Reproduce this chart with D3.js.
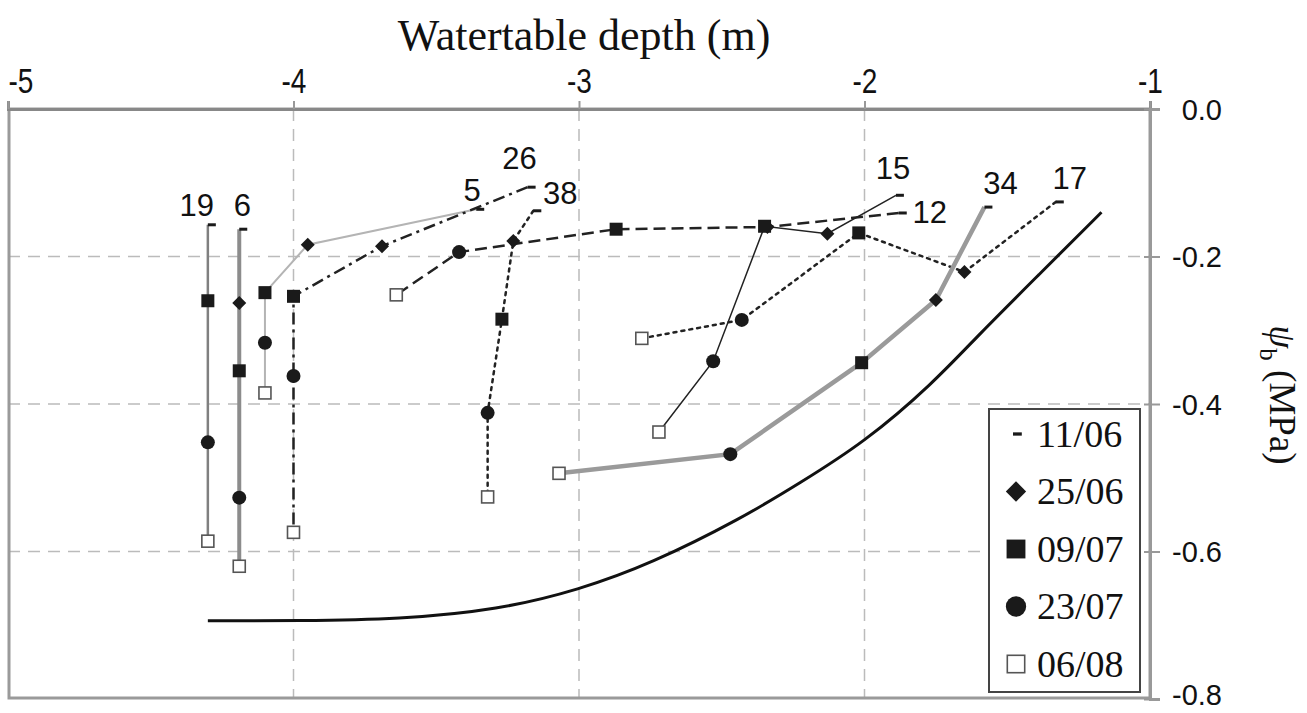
<!DOCTYPE html>
<html>
<head>
<meta charset="utf-8">
<script src="https://cdn.jsdelivr.net/npm/d3@7"></script>
<style>
	body { margin: 0; background: #fff; }
	svg { display: block; }
</style>
</head>
<body>
<svg id="chart" width="1307" height="713"></svg>
<script>
// Water potential (psi_b) against watertable depth, per site & sampling date

	// Sampling dates (order of points along each site line)
var dates = ["11/06", "25/06", "09/07", "23/07", "06/08"];

	// Site points: [depth (m), psi_b (MPa)] per date, null if not sampled
var site19 = [[-4.30, -0.157], null, [-4.30, -0.260], [-4.30, -0.452], [-4.30, -0.586]];
var site6  = [[-4.19, -0.163], [-4.19, -0.263], [-4.19, -0.355], [-4.19, -0.527], [-4.19, -0.620]];
var site5  = [[-3.36, -0.136], [-3.95, -0.184], [-4.10, -0.249], [-4.10, -0.317], [-4.10, -0.385]];
var site26 = [[-3.18, -0.106], [-3.69, -0.186], [-4.00, -0.254], [-4.00, -0.362], [-4.00, -0.574]];
var site38 = [[-3.16, -0.138], [-3.23, -0.179], [-3.27, -0.285], [-3.32, -0.412], [-3.32, -0.526]];
var site12 = [[-1.88, -0.141], [-2.34, -0.160], [-2.87, -0.163], [-3.42, -0.194], [-3.64, -0.252]];
var site15 = [[-1.89, -0.117], [-2.13, -0.169], [-2.35, -0.159], [-2.53, -0.342], [-2.72, -0.438]];
var site17 = [[-1.33, -0.126], [-1.65, -0.221], [-2.02, -0.168], [-2.43, -0.286], [-2.78, -0.311]];
var site34 = [[-1.58, -0.133], [-1.75, -0.259], [-2.01, -0.344], [-2.47, -0.468], [-3.07, -0.494]];

	// Envelope curve
var curveDepth = [-4.30, -3.98, -3.63, -3.28, -3.00, -2.75, -2.43, -2.23, -2.00, -1.76, -1.60, -1.39, -1.17];
var curvePsi   = [-0.694, -0.694, -0.692, -0.679, -0.652, -0.617, -0.555, -0.508, -0.452, -0.372, -0.306, -0.225, -0.140];

	// Axis ticks
var xTicks = [-5, -4, -3, -2, -1];
var yTicks = [0, -0.2, -0.4, -0.6, -0.8];
var xGrid = [-4, -3, -2];
var yGrid = [-0.2, -0.4, -0.6];

	// Line styles and label offsets (px from first point)
var sites = [
	{ id: "19", pts: site19, c: "#808080", w: 2.5, dash: null,          lab: [-11, -20] },
	{ id: "6",  pts: site6,  c: "#8c8c8c", w: 4,   dash: null,          lab: [3, -24] },
	{ id: "5",  pts: site5,  c: "#b4b4b4", w: 2,   dash: null,          lab: [-4, -19] },
	{ id: "26", pts: site26, c: "#222",    w: 2.5, dash: "12,5,3,5",    lab: [-8, -29] },
	{ id: "38", pts: site38, c: "#222",    w: 2.5, dash: "3,5",         lab: [27, -18] },
	{ id: "12", pts: site12, c: "#222",    w: 2.5, dash: "12,6",        lab: [31, -1] },
	{ id: "15", pts: site15, c: "#222",    w: 1.5, dash: null,          lab: [-3, -27] },
	{ id: "17", pts: site17, c: "#222",    w: 2.5, dash: "3,5",         lab: [14, -24] },
	{ id: "34", pts: site34, c: "#9a9a9a", w: 4.5, dash: null,          lab: [16, -24] }
];

var svg = d3.select("#chart");
var x = d3.scaleLinear().domain([-5, -1]).range([8, 1150]);
var y = d3.scaleLinear().domain([0, -0.8]).range([109, 699]);
var fill = "#1a1a1a";

	// PURPOSE: Draw one marker for date index <k> centered at (cx,cy), scale <s>
function marker(g, k, cx, cy, s)
{
	if (k === 0) {
		g.append("line").attr("x1", cx).attr("x2", cx + 8 * s).attr("y1", cy).attr("y2", cy)
			.attr("stroke", fill).attr("stroke-width", 3 * s);
	} else if (k === 1) {
		var h = 7 * s;
		g.append("path").attr("d", "M" + cx + "," + (cy - h) + "L" + (cx + h) + "," + cy + "L" + cx + "," + (cy + h) + "L" + (cx - h) + "," + cy + "Z")
			.attr("fill", fill);
	} else if (k === 2) {
		g.append("rect").attr("x", cx - 6.5 * s).attr("y", cy - 6.5 * s).attr("width", 13 * s).attr("height", 13 * s)
			.attr("fill", fill);
	} else if (k === 3) {
		g.append("circle").attr("cx", cx).attr("cy", cy).attr("r", 7 * s).attr("fill", fill);
	} else {
		g.append("rect").attr("x", cx - 6 * s).attr("y", cy - 6 * s).attr("width", 12 * s).attr("height", 12 * s)
			.attr("fill", "#fff").attr("stroke", "#555").attr("stroke-width", 1.6);
	}
} // marker()

	// Grid lines
svg.selectAll(".vgrid").data(xGrid).enter().append("line")
	.attr("x1", function(d) { return x(d); }).attr("x2", function(d) { return x(d); })
	.attr("y1", y(0)).attr("y2", y(-0.8))
	.attr("stroke", "#bbb").attr("stroke-width", 1.5).attr("stroke-dasharray", "12,8");
svg.selectAll(".hgrid").data(yGrid).enter().append("line")
	.attr("x1", x(-5)).attr("x2", x(-1))
	.attr("y1", function(d) { return y(d); }).attr("y2", function(d) { return y(d); })
	.attr("stroke", "#bbb").attr("stroke-width", 1.5).attr("stroke-dasharray", "12,8");

	// Frame
svg.append("rect").attr("x", x(-5) + 1).attr("y", y(0)).attr("width", x(-1) - x(-5) - 1).attr("height", y(-0.8) - y(0) - 1)
	.attr("fill", "none").attr("stroke", "#9a9a9a").attr("stroke-width", 3);

	// Top axis
var xAx = svg.append("g").attr("transform", "translate(0," + y(0) + ")")
	.call(d3.axisTop(x).tickValues(xTicks).tickSize(8).tickPadding(8).tickFormat(function(d) { return String(d); }));
xAx.select(".domain").attr("stroke", "#888").attr("stroke-width", 3);
xAx.selectAll(".tick line").attr("stroke", "#999").attr("stroke-width", 2);
xAx.selectAll(".tick text").attr("font-family", "Liberation Sans, Arial, sans-serif").attr("font-size", 35)
	.attr("fill", "#111")
	.attr("transform", "scale(0.8,1)")
	.attr("text-anchor", function(d) { return d === -5 ? "start" : "middle"; });

	// Right axis
var yAx = svg.append("g").attr("transform", "translate(" + x(-1) + ",0)")
	.call(d3.axisRight(y).tickValues(yTicks).tickSize(10).tickPadding(14).tickFormat(function(d) { return d.toFixed(1); }));
yAx.select(".domain").attr("stroke", "#999").attr("stroke-width", 3);
yAx.selectAll(".tick line").attr("stroke", "#999").attr("stroke-width", 2).attr("x1", -6);
yAx.selectAll(".tick text").attr("font-family", "Liberation Sans, Arial, sans-serif").attr("font-size", 29)
	.attr("fill", "#111").attr("text-anchor", "end").attr("x", 72).attr("dy", "0.35em");
yAx.selectAll(".tick text").filter(function(d) { return d === -0.8; }).attr("dy", "0.2em");

	// Axis titles
svg.append("text").attr("x", 584).attr("y", 50).attr("text-anchor", "middle")
	.attr("font-family", "Liberation Serif, Times New Roman, serif").attr("font-size", 44).attr("fill", "#111")
	.text("Watertable depth (m)");
var yt = svg.append("text").attr("transform", "translate(1270,395) rotate(90)").attr("text-anchor", "middle")
	.attr("font-family", "Liberation Serif, Times New Roman, serif").attr("font-size", 37).attr("fill", "#111");
yt.append("tspan").attr("font-style", "italic").text("\u03c8");
yt.append("tspan").attr("font-size", 25).attr("dy", 10).text("b");
yt.append("tspan").attr("dy", -10).text(" (MPa)");

	// Envelope curve
var curvePts = curveDepth.map(function(d, i) { return [d, curvePsi[i]]; });
svg.append("path").datum(curvePts)
	.attr("d", d3.line().x(function(d) { return x(d[0]); }).y(function(d) { return y(d[1]); }).curve(d3.curveBasis))
	.attr("fill", "none").attr("stroke", "#111").attr("stroke-width", 3);

	// Site lines
var line = d3.line().x(function(d) { return x(d[0]); }).y(function(d) { return y(d[1]); });
sites.forEach(function(s) {
	var pts = s.pts.filter(function(p) { return p !== null; });
	svg.append("path").datum(pts).attr("d", line)
		.attr("fill", "none").attr("stroke", s.c).attr("stroke-width", s.w)
		.attr("stroke-dasharray", s.dash).attr("stroke-linecap", s.dash === "3,5" ? "round" : "butt");
});

	// Site markers and labels
var mg = svg.append("g");
sites.forEach(function(s) {
	s.pts.forEach(function(p, k) {
		if (p) {
			marker(mg, k, x(p[0]), y(p[1]), 1);
		}
	});
	var p0 = s.pts[0];
	mg.append("text").attr("x", x(p0[0]) + s.lab[0]).attr("y", y(p0[1]) + s.lab[1]).attr("dy", "0.35em")
		.attr("text-anchor", "middle").attr("font-family", "Liberation Sans, Arial, sans-serif")
		.attr("font-size", 31).attr("fill", "#111").text(s.id);
});

	// Legend
var lg = svg.append("g");
lg.append("rect").attr("x", 989).attr("y", 409).attr("width", 151).attr("height", 283)
	.attr("fill", "#fff").attr("stroke", "#444").attr("stroke-width", 2);
dates.forEach(function(d, k) {
	var cy = 434 + k * 57.5;
	if (k === 0) {
		marker(lg, k, 1013, cy, 1.1);
	} else {
		marker(lg, k, 1016, cy, 1.45);
	}
	lg.append("text").attr("x", 1037).attr("y", cy).attr("dy", "0.33em")
		.attr("font-family", "Liberation Serif, Times New Roman, serif").attr("font-size", 38).attr("fill", "#111")
		.text(d);
});
</script>
</body>
</html>
